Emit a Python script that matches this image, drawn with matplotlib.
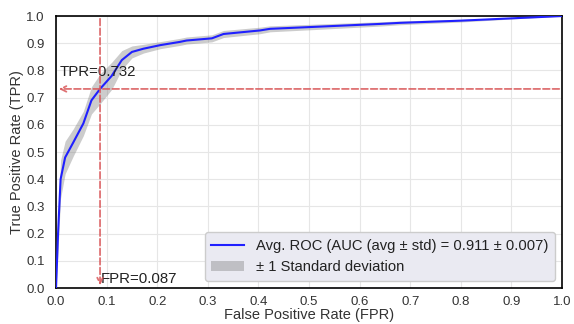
import numpy as np
import matplotlib
matplotlib.use("Agg")
import matplotlib.pyplot as plt

plt.rcParams['font.family'] = ['Liberation Sans', 'DejaVu Sans']

fpr = [0.0, 0.004, 0.009, 0.018, 0.034, 0.054, 0.070, 0.087, 0.110, 0.130, 0.150,
       0.173, 0.206, 0.245, 0.258, 0.308, 0.331, 0.403, 0.423, 0.508, 0.640,
       0.680, 0.800, 1.0]
tpr = [0.0, 0.20, 0.40, 0.48, 0.535, 0.605, 0.690, 0.732, 0.780, 0.838, 0.868,
       0.880, 0.893, 0.905, 0.910, 0.918, 0.934, 0.947, 0.953, 0.960, 0.971,
       0.975, 0.983, 1.0]
std = [0.0, 0.06, 0.07, 0.06, 0.05, 0.045, 0.05, 0.055, 0.05, 0.035, 0.022,
       0.016, 0.013, 0.013, 0.013, 0.013, 0.013, 0.012, 0.011, 0.010, 0.008,
       0.007, 0.005, 0.0]
auc_mean = 0.911
auc_std = 0.007
op_fpr = 0.087
op_tpr = 0.732

fpr = np.array(fpr); tpr = np.array(tpr); std = np.array(std)

fig = plt.figure(figsize=(5.74, 3.24), dpi=100)
ax = fig.add_axes([0.0976, 0.111, 0.8815, 0.8395])

ax.grid(True, color='#e6e6e6', linewidth=0.8)
ax.set_axisbelow(True)

ax.plot(fpr, tpr, color='#2020ff', lw=1.5,
        label=f'Avg. ROC (AUC (avg \u00b1 std) = {auc_mean:.3f} \u00b1 {auc_std:.3f})', zorder=3)
ax.fill_between(fpr, np.clip(tpr - std, 0, 1), np.clip(tpr + std, 0, 1),
                color='grey', alpha=0.4, lw=0, label='\u00b1 1 Standard deviation', zorder=2)

lc = '#d9585a'
ax.annotate('', xy=(op_fpr, 0.0), xytext=(op_fpr, 1.0),
            arrowprops=dict(arrowstyle='->', color=lc, ls='--', lw=1.3, alpha=0.85), zorder=4)
ax.annotate('', xy=(0.0, op_tpr), xytext=(1.0, op_tpr),
            arrowprops=dict(arrowstyle='->', color=lc, ls='--', lw=1.3, alpha=0.85), zorder=4)
ax.text(0.008, 0.78, f'TPR={op_tpr:.3f}', fontsize=10.8, color='#222222')
ax.text(op_fpr + 0.002, 0.02, f'FPR={op_fpr:.3f}', fontsize=10.8, color='#222222')

ax.set_xlim(0, 1)
ax.set_ylim(0, 1)
ticks = np.round(np.arange(0, 1.01, 0.1), 1)
ax.set_xticks(ticks)
ax.set_yticks(ticks)
ax.set_xticklabels([f'{t:.1f}' for t in ticks])
ax.set_yticklabels([f'{t:.1f}' for t in ticks])
ax.tick_params(labelsize=9.5, colors='#333333', length=0)
ax.tick_params(axis='y', pad=8)
ax.tick_params(axis='x', pad=6)
for s in ax.spines.values():
    s.set_color('black')
    s.set_linewidth(1.2)

ax.set_xlabel('False Positive Rate (FPR)', fontsize=10.5, color='#333333', labelpad=0)
ax.set_ylabel('True Positive Rate (TPR)', fontsize=10.5, color='#333333', labelpad=2)

leg = ax.legend(loc='lower right', fontsize=10.6, facecolor='#eaeaf2', edgecolor='#cccccc',
                framealpha=1.0, borderpad=0.45, handlelength=2.2)
for t in leg.get_texts():
    t.set_color('#222222')

fig.savefig('out.png', dpi=100)
